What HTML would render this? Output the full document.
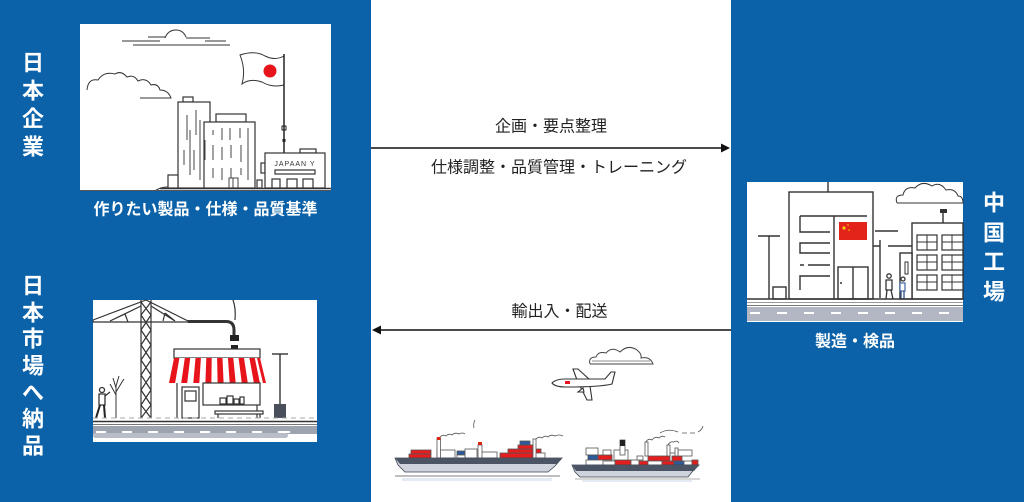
<!DOCTYPE html>
<html><head><meta charset="utf-8"><style>
html,body{margin:0;padding:0;background:#fff;}
body{width:1024px;height:502px;overflow:hidden;}
svg{display:block;}
text{font-family:"Liberation Sans","Noto Sans CJK JP",sans-serif;}
</style></head><body>
<svg width="1024" height="502" viewBox="0 0 1024 502" xmlns="http://www.w3.org/2000/svg">
<!-- panels -->
<rect x="0" y="0" width="1024" height="502" fill="#fff"/>
<rect x="0" y="0" width="371" height="502" fill="#0b62a8"/>
<rect x="731" y="0" width="293" height="502" fill="#0b62a8"/>

<!-- vertical labels -->
<g fill="#fff" font-size="22" font-weight="bold" text-anchor="middle" dominant-baseline="central">
<text x="33" y="63">日</text><text x="33" y="91">本</text><text x="33" y="119">企</text><text x="33" y="147">業</text>
<text x="33" y="286">日</text><text x="33" y="313">本</text><text x="33" y="339">市</text><text x="33" y="366">場</text><text x="33" y="393">へ</text><text x="33" y="419">納</text><text x="33" y="446">品</text>
<text x="994" y="203">中</text><text x="994" y="233">国</text><text x="994" y="262">工</text><text x="994" y="292">場</text>
</g>

<!-- captions -->
<g fill="#fff" font-size="16" font-weight="bold" text-anchor="middle" dominant-baseline="central">
<text x="205.5" y="210">作りたい製品・仕様・品質基準</text>
<text x="855" y="342">製造・検品</text>
</g>

<!-- center labels -->
<g fill="#222" font-size="16" text-anchor="middle" dominant-baseline="central">
<text x="551" y="127">企画・要点整理</text>
<text x="559" y="168">仕様調整・品質管理・トレーニング</text>
<text x="559.5" y="312">輸出入・配送</text>
</g>

<!-- arrows -->
<line x1="371" y1="148" x2="723" y2="148" stroke="#111" stroke-width="1.5"/>
<polygon points="730,148 721,143.5 721,152.5" fill="#111"/>
<line x1="380" y1="330" x2="731" y2="330" stroke="#111" stroke-width="1.5"/>
<polygon points="372,330 381,325.5 381,334.5" fill="#111"/>

<!-- ===== Top-left image: Japanese company ===== -->
<rect x="80" y="24" width="251" height="167" fill="#fff"/>
<g fill="none" stroke="#333" stroke-width="1">
  <path d="M122,41 H160 M133,45 H230 M148,37 H165 M165,38 Q168,30 176,30 Q183,30 186,37 M186,38 H210 M205,41 H226"/>
  <path d="M87,90 Q88,78 98,80 Q104,71 115,74 Q121,70 127,77 Q134,74 138,81 Q146,77 151,85 Q158,83 160,90 Q168,90 171,98 H140"/>
</g>
<!-- flag -->
<path d="M240,55 Q255,50 265,56 Q275,61 284,56 L284,85 Q272,88 262,82 Q250,78 242,84 Q246,70 240,55 Z" fill="#fff" stroke="#333" stroke-width="1"/>
<circle cx="270" cy="71" r="6.5" fill="#e8141b"/>
<line x1="284" y1="54" x2="284" y2="153" stroke="#222" stroke-width="1.5"/>
<rect x="282" y="126" width="4" height="4" fill="none" stroke="#222" stroke-width="1"/>
<rect x="282.5" y="139" width="3" height="3" fill="#222"/>
<g fill="#fff" stroke="#333" stroke-width="1.2">
  <rect x="183" y="97" width="10" height="5"/>
  <rect x="178" y="102" width="32" height="86"/>
  <rect x="216" y="114" width="30" height="8"/>
  <rect x="204" y="122" width="51" height="66"/>
  <rect x="168" y="175" width="10" height="13"/>
  <rect x="300" y="149" width="16" height="4"/>
  <rect x="261" y="163" width="4" height="10"/>
  <rect x="265" y="153" width="60" height="35"/>
  <rect x="275" y="170" width="40" height="4"/>
  <rect x="272" y="179" width="8" height="9"/>
  <rect x="287" y="179" width="10" height="9"/>
  <rect x="303" y="179" width="10" height="9"/>
  <rect x="257" y="180" width="5" height="8"/>
</g>
<g stroke="#444" stroke-width="1" fill="none">
  <path d="M187,115 V140 M190,130 V175 M196,110 V135 M200,120 V180 M184,150 V165 M194,150 V170 M205,140 V160"/>
  <path d="M213,130 V135 M222,128 V140 M230,128 V140 M240,128 V138 M213,145 V160 M222,147 V160 M231,145 V158 M241,145 V162 M213,168 V178 M222,168 V180 M231,168 V178 M241,168 V175 M248,128 V180"/>
  <path d="M229,188 V178 H238 V188 M233,178 V188"/>
</g>
<text x="295" y="166" font-size="7" fill="#333" text-anchor="middle" letter-spacing="1" font-family="Liberation Sans, sans-serif">JAPAAN Y</text>
<path d="M155,191 Q160,187 168,187" stroke="#333" fill="none"/>
<line x1="160" y1="188.5" x2="331" y2="188.5" stroke="#333" stroke-width="1.6"/>
<line x1="80" y1="190.5" x2="331" y2="190.5" stroke="#555" stroke-width="1"/>

<!-- ===== Right image: Chinese factory ===== -->
<rect x="747" y="182" width="216" height="140" fill="#fff"/>
<g fill="none" stroke="#333" stroke-width="1">
  <path d="M897,203 Q894,195 903,195 Q905,186 915,188 Q922,180 932,186 Q940,181 946,190 Q955,188 958,196 Q963,196 963,203 H897"/>
</g>
<g fill="#fff" stroke="#333" stroke-width="1.4">
  <rect x="789" y="192" width="84" height="107"/>
  <rect x="912" y="223" width="51" height="76"/>
  <rect x="900" y="253" width="12" height="46"/>
  <rect x="773" y="287" width="13" height="12"/>
</g>
<g fill="none" stroke="#333" stroke-width="1.4">
  <path d="M828,182 V192"/>
  <path d="M800,216 H867 M800,216 V232 H830"/>
  <path d="M830,243 H800 V253 H830"/>
  <path d="M800,265 H804 M808,265 H830" />
  <path d="M830,276 H800 V290"/>
  <path d="M834,216 V299"/>
  <rect x="838" y="267" width="30" height="32"/>
  <path d="M853,267 V299"/>
  <path d="M769,236 V299 M758,236 H780"/>
  <path d="M880,240 V298 M875,231 H898 M888,246 H912 M873,246 H880"/>
  <path d="M943,210 V223"/>
  <rect x="905" y="262" width="3" height="12" stroke-width="1"/>
</g>
<rect x="940" y="209" width="7" height="4" fill="#333"/>
<rect x="839" y="222" width="28" height="18" fill="#e3241b"/>
<circle cx="844" cy="228" r="1.6" fill="#f5d000"/>
<circle cx="848" cy="225" r="0.8" fill="#f5d000"/>
<circle cx="849" cy="230" r="0.8" fill="#f5d000"/>
<circle cx="841" cy="283" r="1" fill="#333"/>
<g fill="#fff" stroke="#333" stroke-width="1.2">
  <rect x="917" y="235" width="20" height="15"/><rect x="942" y="235" width="21" height="15"/>
  <rect x="917" y="255" width="20" height="15"/><rect x="942" y="255" width="21" height="15"/>
  <rect x="917" y="275" width="20" height="15"/><rect x="942" y="275" width="21" height="15"/>
</g>
<g stroke="#333" stroke-width="1">
  <path d="M927,235 V250 M917,242 H937 M952,235 V250 M942,242 H963 M927,255 V270 M917,262 H937 M952,255 V270 M942,262 H963 M927,275 V290 M917,282 H937 M952,275 V290 M942,282 H963"/>
</g>
<!-- people -->
<g stroke="#333" stroke-width="1.3" fill="#fff">
  <circle cx="889" cy="276" r="2.2"/>
  <path d="M886,280 H892 V290 H886 Z"/>
  <path d="M887,290 L886,299 M891,290 L893,299" fill="none"/>
  <circle cx="903" cy="279" r="2"/>
  <path d="M900,283 H905 V291 H900 Z" stroke="#4a6fa5"/>
  <path d="M901,291 V299 M904,291 V299" stroke="#2d4f86" fill="none"/>
</g>
<line x1="747" y1="299" x2="963" y2="299" stroke="#333" stroke-width="1.6"/>
<line x1="747" y1="302.5" x2="963" y2="302.5" stroke="#999" stroke-width="1"/>
<line x1="747" y1="305.5" x2="963" y2="305.5" stroke="#777" stroke-width="1"/>
<rect x="747" y="307" width="216" height="14" fill="#b2b7c3"/>
<g fill="#fff">
  <rect x="750" y="312" width="10" height="2"/><rect x="777" y="312" width="10" height="2"/><rect x="804" y="312" width="10" height="2"/><rect x="831" y="312" width="10" height="2"/><rect x="858" y="312" width="10" height="2"/><rect x="885" y="312" width="10" height="2"/><rect x="912" y="312" width="10" height="2"/><rect x="939" y="312" width="10" height="2"/>
</g>

<!-- ===== Bottom-left image: shop ===== -->
<rect x="93" y="300" width="224" height="142" fill="#fff"/>
<g fill="none" stroke="#333" stroke-width="1.2">
  <!-- crane -->
  <path d="M141,300 V418 M151,300 V418"/>
  <path d="M141,330 L151,345 M151,330 L141,345 M141,345 L151,360 M151,345 L141,360 M141,360 L151,375 M151,360 L141,375 M141,375 L151,390 M151,375 L141,390 M141,390 L151,405 M151,390 L141,405 M141,405 L151,418 M151,405 L141,418"/>
  <path d="M141,302 L151,315 M151,302 L141,315 M141,315 L151,330 M151,315 L141,330"/>
  <path d="M146,300 L93,320 M146,300 L188,321 M93,322 H188 M93,320 V322"/>
  <path d="M141,306 L110,321 M151,306 L175,321 M125,314 L128,322 M165,313 L163,321 M110,321 L125,314 M175,321 L165,313"/>
  <path d="M188,321.5 H226 Q234,321.5 234,330 V335" stroke-width="3"/>
  <path d="M233,300 Q236,308 235,320"/>
</g>
<rect x="230" y="335" width="9" height="6" fill="#222"/>
<rect x="231" y="345" width="7" height="4" fill="#222"/>
<!-- shop -->
<rect x="174" y="349" width="86" height="9" fill="#fff" stroke="#333" stroke-width="1.2"/>
<g>
  <polygon points="174,358 260,358 266,383 169,383" fill="#fff"/>
  <polygon points="174,358 179.4,358 175.1,383 169,383" fill="#e8141b"/>
  <polygon points="184.8,358 190.2,358 187.2,383 181.2,383" fill="#e8141b"/>
  <polygon points="195.5,358 200.9,358 199.3,383 193.3,383" fill="#e8141b"/>
  <polygon points="206.3,358 211.7,358 211.4,383 205.4,383" fill="#e8141b"/>
  <polygon points="217.1,358 222.5,358 223.6,383 217.6,383" fill="#e8141b"/>
  <polygon points="227.9,358 233.3,358 235.7,383 229.7,383" fill="#e8141b"/>
  <polygon points="238.6,358 244,358 247.8,383 241.8,383" fill="#e8141b"/>
  <polygon points="249.4,358 254.8,358 259.9,383 253.9,383" fill="#e8141b"/>
  <polygon points="257,358 260,358 266,383 263,383" fill="#e8141b"/>
</g>
<g fill="#fff" stroke="#333" stroke-width="1.2">
  <path d="M177,383 V418 M257,383 V418" fill="none"/>
  <rect x="182" y="387" width="17" height="31"/>
  <rect x="185" y="391" width="11" height="10"/>
  <rect x="203" y="383" width="57" height="22"/>
  <rect x="220" y="398" width="6" height="6"/><rect x="227" y="396" width="6" height="8"/><rect x="234" y="399" width="5" height="5"/><rect x="240" y="397" width="4" height="7"/>
  <rect x="215" y="411" width="48" height="3"/>
  <path d="M218,414 V418 M260,414 V418" fill="none"/>
</g>
<line x1="280" y1="354" x2="280" y2="404" stroke="#333" stroke-width="1.4"/>
<line x1="272" y1="354" x2="288" y2="354" stroke="#333" stroke-width="1.4"/>
<rect x="274" y="404" width="12" height="14" fill="#4a4f5c"/>
<!-- tree -->
<g stroke="#333" stroke-width="1" fill="none">
  <path d="M116,418 V385 M116,395 L110,384 M116,392 L122,382 M116,388 L113,378 M116,386 L119,376 M122,382 L124,379"/>
</g>
<!-- person -->
<g stroke="#333" stroke-width="1.3" fill="#fff">
  <circle cx="102" cy="390" r="2.5"/>
  <path d="M99,394 H105 V405 H99 Z"/>
  <path d="M105,396 L110,392" fill="none"/>
  <path d="M100,405 L96,418 M104,405 L105,418" stroke="#222" stroke-width="2" fill="none"/>
</g>
<line x1="93" y1="418" x2="317" y2="418" stroke="#aaa" stroke-width="1" stroke-dasharray="5 4"/>
<line x1="93" y1="421.5" x2="317" y2="421.5" stroke="#333" stroke-width="1.6"/>
<line x1="93" y1="424.5" x2="317" y2="424.5" stroke="#777" stroke-width="1"/>
<rect x="93" y="426" width="224" height="8" fill="#9ea3b0"/>
<rect x="93" y="433" width="195" height="5" rx="2.5" fill="#b9bdc8"/>
<g fill="#fff">
  <rect x="96" y="431" width="10" height="2"/><rect x="122" y="431" width="10" height="2"/><rect x="148" y="431" width="10" height="2"/><rect x="174" y="431" width="10" height="2"/><rect x="200" y="431" width="10" height="2"/><rect x="226" y="431" width="10" height="2"/><rect x="252" y="431" width="10" height="2"/><rect x="278" y="431" width="12" height="2"/>
</g>

<!-- ===== Plane & cloud ===== -->
<path d="M590,364 Q588,357 596,357 Q598,351 606,353 Q612,346 620,352 Q628,344 637,350 Q642,354 641,358 Q650,356 653,364 H590" fill="none" stroke="#444" stroke-width="1"/>
<line x1="592" y1="361" x2="650" y2="361" stroke="#666" stroke-width="0.8"/>
<g stroke="#333" stroke-width="1.1" fill="#fff">
  <path d="M577,380 L573,369 H578 L590,380 Z"/>
  <path d="M580,386 L587,400 H592 L590,386 Z"/>
  <path d="M552,383 Q556,379 565,379 H605 L611,372 H615 L612,384 Q600,387 566,387 Q555,387 552,383 Z"/>
  <path d="M583,388 L578,392 H584 Z"/>
</g>
<rect x="565" y="381" width="5" height="3" fill="#e8141b"/>

<!-- ===== Ships ===== -->
<!-- ship 1 -->
<g stroke="#555" stroke-width="0.8">
  <rect x="411" y="450" width="20" height="4" fill="#e41e1e"/>
  <rect x="409" y="454" width="22" height="4" fill="#e41e1e"/>
  <rect x="437" y="450" width="18" height="8" fill="#fff"/>
  <rect x="457" y="451" width="8" height="4" fill="#2d5a9a"/>
  <rect x="465" y="449" width="12" height="9" fill="#fff"/>
  <rect x="457" y="455" width="8" height="3" fill="#fff"/>
  <rect x="480" y="452" width="17" height="6" fill="#fff"/>
  <rect x="500" y="453" width="33" height="5" fill="#e41e1e"/>
  <rect x="508" y="449" width="25" height="4" fill="#e41e1e"/>
  <rect x="518" y="445" width="15" height="4" fill="#e41e1e"/>
  <rect x="520" y="441" width="10" height="4" fill="#2d5a9a"/>
  <rect x="535" y="449" width="6" height="4" fill="#e41e1e"/>
  <rect x="535" y="453" width="10" height="5" fill="#fff"/>
  <rect x="437" y="438" width="3.5" height="20" fill="#fff"/>
  <rect x="478" y="445" width="4" height="13" fill="#fff"/>
  <rect x="533" y="439" width="3" height="19" fill="#fff"/>
</g>
<rect x="437" y="437" width="3.5" height="3" fill="#d21"/>
<rect x="478" y="442" width="4" height="3" fill="#d21"/>
<polygon points="395,458 562,458 555,466 548,472 405,472 398,465" fill="#cfd3db" stroke="#3d4452" stroke-width="0.8"/>
<polygon points="395,458 562,458 557,464 400,464" fill="#4b5465"/>
<g fill="none" stroke="#555" stroke-width="0.8">
  <path d="M440,437 q3,-3 6,-1 q3,-3 6,-1 q3,-3 7,-1 q3,-2 6,0"/>
  <path d="M536,439 q3,-3 6,-1 q3,-3 6,-1 q3,-3 7,-1 q4,-2 8,0"/>
  <path d="M475,420 q-2,4 -1,8"/>
</g>
<line x1="395" y1="476" x2="560" y2="476" stroke="#555" stroke-width="0.8"/>
<rect x="402" y="478" width="150" height="3" fill="#e3eaf3"/>
<!-- ship 2 -->
<g stroke="#555" stroke-width="0.8">
  <rect x="586" y="448" width="12" height="7" fill="#fff"/>
  <rect x="588" y="455" width="10" height="5" fill="#2d5a9a"/>
  <rect x="598" y="455" width="14" height="5" fill="#e41e1e"/>
  <rect x="586" y="460" width="26" height="5" fill="#fff"/>
  <rect x="603" y="450" width="8" height="5" fill="#fff"/>
  <rect x="603" y="461" width="12" height="4" fill="#fff"/>
  <rect x="615" y="460" width="16" height="5" fill="#e41e1e"/>
  <rect x="614" y="450" width="14" height="10" fill="#fff"/>
  <rect x="620" y="440" width="5" height="15" fill="#fff"/>
  <rect x="631" y="460" width="8" height="5" fill="#fff"/>
  <rect x="637" y="456" width="6" height="4" fill="#fff"/>
  <rect x="639" y="461" width="9" height="4" fill="#e41e1e"/>
  <rect x="648" y="456" width="22" height="5" fill="#e41e1e"/>
  <rect x="648" y="461" width="14" height="4" fill="#fff"/>
  <rect x="662" y="461" width="12" height="4" fill="#e41e1e"/>
  <rect x="670" y="453" width="8" height="8" fill="#fff"/>
  <rect x="672" y="456" width="10" height="5" fill="#e41e1e"/>
  <rect x="674" y="461" width="10" height="4" fill="#2d5a9a"/>
  <rect x="678" y="450" width="14" height="6" fill="#fff"/>
  <rect x="684" y="461" width="8" height="4" fill="#fff"/>
  <rect x="692" y="460" width="6" height="5" fill="#e41e1e"/>
  <rect x="645" y="442" width="3" height="14" fill="#fff"/>
  <rect x="667" y="445" width="3" height="11" fill="#fff"/>
  <rect x="675" y="448" width="3" height="8" fill="#fff"/>
</g>
<rect x="620" y="440" width="5" height="6" fill="#222"/>
<polygon points="572,465 699,465 692,472 688,477 580,477 575,472" fill="#cfd3db" stroke="#3d4452" stroke-width="0.8"/>
<polygon points="572,465 699,465 694,471 576,471" fill="#4b5465"/>
<g fill="none" stroke="#555" stroke-width="0.8">
  <path d="M646,442 q2,-4 6,-2 q3,-4 7,-2 q3,-3 6,-1"/>
  <path d="M668,445 q2,-4 6,-3 q3,-2 5,1"/>
  <path d="M660,433 q8,-5 18,-1 M682,433 h5 M690,433 h5 M698,432 q4,-2 5,-6"/>
</g>
<line x1="575" y1="479" x2="700" y2="479" stroke="#666" stroke-width="0.6"/>
<rect x="582" y="480" width="110" height="2" fill="#e3eaf3"/>
</svg>
</body></html>
